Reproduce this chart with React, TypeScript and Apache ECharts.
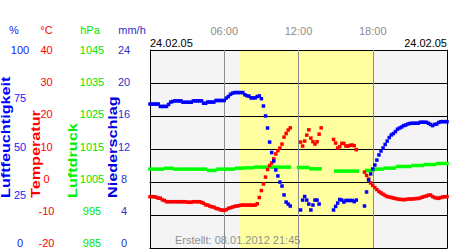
import React, { useEffect, useRef } from "react";
import * as echarts from "echarts";

// 10-minute samples, 00:00 .. 24:00 (null = no reading)
const humidity: (number | null)[] = [
  72.7, 72.7, 72.7, 72.7, 72.7, 71.5, 71.5, 71.5, 71.5, 72.5,
  73.7, 74, 74.3, 74.3, 74.3, 74.3, 73.6, 73.6, 73.6, 73.6,
  73.6, 74.3, 74.3, 74.3, 74.3, 74.3, 73.1, 73.1, 73.7, 73.7,
  73.7, 73.7, 74.5, 74.5, 74.5, 74.5, 74.5, 75.7, 76.5, 77.6,
  78.2, 78.5, 78.5, 78.5, 78.5, 78.5, 77.4, 76.9, 76.7, 75.8,
  75.8, 75.8, 76.5, 76.8, 75.4, 71.7, 66.7, 60.6, 53.5, 48.2,
  43.9, 39.4, 36.4, 33.3, 31.3, 26.8, 23.2, 22.2, 21.2, null,
  null, null, null, 19.2, 24.2, 26, 24.2, 22.2, 19.2, 21.7,
  24.2, 24.2, 22.2, null, null, null, null, null, null, 19.2,
  21, 22.7, 24.5, 24.2, 23.2, 24, 24, 24, 24, 23.4,
  24.2, null, null, null, 21.2, 28.3, 34.3, 37.4, 39.9, 41.9,
  44.4, 47, 49, 50.5, 52.3, 54, 55.8, 57.1, 57.8, 58.8,
  60, 60.6, 61.1, 61.8, 62.1, 62.6, 62.9, 63, 63, 63,
  63, 63.5, 63.5, 63.5, 63.5, 63, 62.4, 61.8, 62.4, 62.6,
  63.4, 63.8, 63.8, 63.8, 63.8,
];

const temperature: (number | null)[] = [
  -4.45, -4.45, -4.45, -4.6, -4.9, -4.9, -5.4, -5.6, -5.97, -5.97,
  -5.97, -5.97, -5.97, -5.97, -5.97, -5.97, -5.97, -5.97, -6.1, -6.15,
  -6.15, -5.97, -5.97, -5.97, -5.97, -6.2, -6.45, -6.9, -7.0, -7.3,
  -7.5, -7.6, -8.0, -8.1, -8.4, -8.5, -8.6, -8.4, -8.0, -7.8,
  -7.6, -7.4, -7.3, -7.2, -7.0, -7.0, -7.0, -7.0, -7.0, -7.0,
  -7.0, -7.0, -6.6, -4.7, -2.6, -0.6, 1.5, 3.8, 5.0, 5.75,
  7.0, 8.5, 9.5, 10.3, 11.5, 13.6, 14.7, 15.75, 16.4, null,
  null, null, null, 12.1, 10.9, 12.4, 14.2, 15.8, 13.3, 12.2,
  11.5, 12.2, 14.5, 16.4, null, null, null, null, null, 12.9,
  11.8, 10.3, 10.7, 11.7, 11.7, 10.9, 10.9, 11.1, 11.2, 11.0,
  9.8, null, null, null, 3.0, 2.0, 0.9, -0.3, -1.05, -1.7,
  -2.3, -2.9, -3.3, -3.7, -4.1, -4.4, -4.55, -4.7, -4.85, -5.0,
  -5.15, -5.25, -5.3, -5.35, -5.3, -5.2, -5.15, -5.15, -5.1, -5.0,
  -5.0, -4.85, -4.6, -4.4, -4.25, -4.0, -3.95, -4.4, -4.7, -4.85,
  -4.95, -4.7, -4.55, -4.45, -4.45,
];

// 15-minute samples, 00:00 .. 24:00
const pressure: (number | null)[] = [
  1008.9, 1008.9, 1008.9, 1008.9, 1008.9, 1009.15, 1009.15, 1009.15, 1008.9, 1008.9,
  1008.9, 1008.9, 1008.9, 1008.9, 1008.9, 1008.9, 1008.9, 1008.9, 1008.9, 1008.5,
  1008.5, 1008.5, 1008.9, 1008.9, 1008.9, 1008.9, 1008.9, 1008.9, 1009.2, 1009.2,
  1009.2, 1009.3, 1009.3, 1009.3, 1009.5, 1009.5, 1009.5, 1009.5, 1009.5, 1009.5,
  1009.5, 1009.5, 1009.5, 1009.5, 1009.5, 1009.5, null, null, 1009.4, 1009.4,
  1009.4, 1009.4, 1009.0, 1009.0, 1009.0, 1009.0, null, null, null, null,
  1008.3, 1008.3, 1008.3, 1008.3, 1008.3, 1008.3, 1008.3, 1008.3, null, null,
  1008.5, 1008.5, 1008.5, 1008.9, 1008.9, 1008.9, 1009.2, 1009.2, 1009.2, 1009.2,
  1009.7, 1009.7, 1009.7, 1009.7, 1009.7, 1010.0, 1010.0, 1010.0, 1010.0, 1010.3,
  1010.3, 1010.3, 1010.3, 1010.6, 1010.6, 1010.6, 1010.6,
];

const HUM_STEP_H = 1 / 6;
const TEMP_STEP_H = 1 / 6;
const PRES_STEP_H = 1 / 4;

const TIME_TICKS = ["", "06:00", "12:00", "18:00", ""];
const SUNRISE = 7.27;
const SUNSET = 18.03;

const HUM_AXIS = { min: 0, max: 100, interval: 25 };
const TEMP_AXIS = { min: -20, max: 40, interval: 10 };
const PRES_AXIS = { min: 985, max: 1045, interval: 10 };
const RAIN_AXIS = { min: 0, max: 24, interval: 4 };

const DATE_TEXT = "24.02.05";
const CREATED_TEXT = "Erstellt: 08.01.2012 21:45";

const FONT = "Liberation Sans, Arial, Helvetica, sans-serif";

function toPoints(values: (number | null)[], step: number) {
  const out: number[][] = [];
  values.forEach((v, i) => {
    if (v !== null) out.push([i * step, v]);
  });
  return out;
}

export default function App() {
  const ref = useRef<HTMLDivElement>(null);

  useEffect(() => {
    if (!ref.current) return;
    const chart = echarts.init(ref.current, undefined, { renderer: "svg" });

    const labelAxis = (
      cfg: { min: number; max: number; interval: number },
      color: string,
      margin: number
    ) => ({
      type: "value",
      gridIndex: 1,
      position: "left",
      min: cfg.min,
      max: cfg.max,
      interval: cfg.interval,
      axisLine: { show: false },
      axisTick: { show: false },
      splitLine: { show: false },
      axisLabel: {
        show: true,
        color,
        fontSize: 11,
        fontFamily: FONT,
        align: "center",
        margin,
        showMinLabel: true,
        showMaxLabel: true,
        formatter: (v: number) => String(v),
      },
    });

    const header = (text: string, x: number, color: string) => ({
      type: "text",
      x,
      y: 30,
      style: {
        text,
        fill: color,
        font: `11px ${FONT}`,
        textAlign: "center",
        textVerticalAlign: "middle",
      },
    });

    const vertical = (text: string, x: number, color: string) => ({
      type: "text",
      x,
      y: 198,
      rotation: Math.PI / 2,
      scaleX: 1.35,
      style: {
        text,
        fill: color,
        font: `bold 12px ${FONT}`,
        textAlign: "left",
        textVerticalAlign: "top",
      },
    });

    const scatter = (
      name: string,
      data: number[][],
      yAxisIndex: number,
      color: string,
      extra: any = {}
    ) => ({
      name,
      type: "scatter",
      xAxisIndex: 0,
      yAxisIndex,
      data,
      symbol: "rect",
      symbolSize: 3.5,
      itemStyle: { color, opacity: 1 },
      silent: true,
      z: 2,
      ...extra,
    });

    chart.setOption({
      animation: false,
      grid: [
        {
          left: 150,
          top: 50,
          width: 300,
          height: 198,
          show: true,
          backgroundColor: "#f4f4f4",
          borderWidth: 0,
        },
        { left: 150, top: 50, width: 300, height: 193, show: false },
      ],
      xAxis: [
        {
          type: "value",
          gridIndex: 0,
          position: "top",
          min: 0,
          max: 24,
          interval: 6,
          z: 1.5,
          axisLine: { show: true, lineStyle: { color: "#000", width: 1 } },
          axisTick: { show: false },
          axisLabel: {
            show: true,
            color: "#8c8c8c",
            fontSize: 11,
            fontFamily: FONT,
            margin: 14,
            showMinLabel: true,
            showMaxLabel: true,
            formatter: (v: number) => TIME_TICKS[Math.round(v / 6)] ?? "",
          },
          splitLine: {
            show: true,
            showMinLine: false,
            showMaxLine: false,
            lineStyle: { color: "#8c8c8c", width: 1 },
          },
        },
        {
          type: "value",
          gridIndex: 0,
          position: "bottom",
          min: 0,
          max: 24,
          interval: 6,
          z: 1.5,
          axisLine: { show: true, lineStyle: { color: "#000", width: 1 } },
          axisTick: { show: false },
          axisLabel: { show: false },
          splitLine: { show: false },
        },
        { type: "value", gridIndex: 1, min: 0, max: 1, show: false },
      ],
      yAxis: [
        {
          type: "value",
          gridIndex: 0,
          position: "left",
          ...TEMP_AXIS,
          z: 1.5,
          axisLine: { show: true, lineStyle: { color: "#000", width: 1 } },
          axisTick: { show: false },
          axisLabel: { show: false },
          splitLine: { show: true, lineStyle: { color: "#000", width: 1 } },
        },
        { type: "value", gridIndex: 0, ...HUM_AXIS, show: false },
        { type: "value", gridIndex: 0, ...PRES_AXIS, show: false },
        {
          type: "value",
          gridIndex: 0,
          position: "right",
          ...RAIN_AXIS,
          z: 1.5,
          axisLine: { show: true, lineStyle: { color: "#000", width: 1 } },
          axisTick: { show: false },
          axisLabel: { show: false },
          splitLine: { show: false },
        },
        labelAxis(HUM_AXIS, "#2020ff", 130),
        labelAxis(TEMP_AXIS, "#ff0000", 103.5),
        labelAxis(PRES_AXIS, "#00e600", 58),
        labelAxis(RAIN_AXIS, "#3030c8", 26),
      ],
      series: [
        scatter("Luftdruck", toPoints(pressure, PRES_STEP_H), 2, "#00ff00", {
          markArea: {
            silent: true,
            z: 1,
            itemStyle: { color: "#ffffa0", borderWidth: 0 },
            label: { show: false },
            data: [[{ xAxis: SUNRISE }, { xAxis: SUNSET }]],
          },
        }),
        scatter("Temperatur", toPoints(temperature, TEMP_STEP_H), 0, "#ff0000"),
        scatter("Luftfeuchtigkeit", toPoints(humidity, HUM_STEP_H), 1, "#0000ff"),
      ],
      graphic: [
        header("%", 14, "#2020ff"),
        header("°C", 46.5, "#ff0000"),
        header("hPa", 90, "#00e600"),
        header("mm/h", 132, "#3030c8"),
        vertical("Luftfeuchtigkeit", 0, "#0000ff"),
        vertical("Temperatur", 29.5, "#ff0000"),
        vertical("Luftdruck", 66.5, "#00ee00"),
        vertical("Niederschlag", 106.5, "#0000e0"),
        {
          type: "text",
          x: 150,
          y: 43,
          style: {
            text: DATE_TEXT,
            fill: "#000",
            font: `11px ${FONT}`,
            textAlign: "left",
            textVerticalAlign: "middle",
          },
        },
        {
          type: "text",
          x: 447,
          y: 43,
          style: {
            text: DATE_TEXT,
            fill: "#000",
            font: `11px ${FONT}`,
            textAlign: "right",
            textVerticalAlign: "middle",
          },
        },
        {
          type: "text",
          x: 175,
          y: 240,
          z: 10,
          style: {
            text: CREATED_TEXT,
            fill: "#909090",
            font: `11px ${FONT}`,
            textAlign: "left",
            textVerticalAlign: "middle",
          },
        },
      ],
    });

    return () => chart.dispose();
  }, []);

  return (
    <div
      ref={ref}
      style={{ position: "absolute", left: 0, top: 0, width: 450, height: 250 }}
    />
  );
}
